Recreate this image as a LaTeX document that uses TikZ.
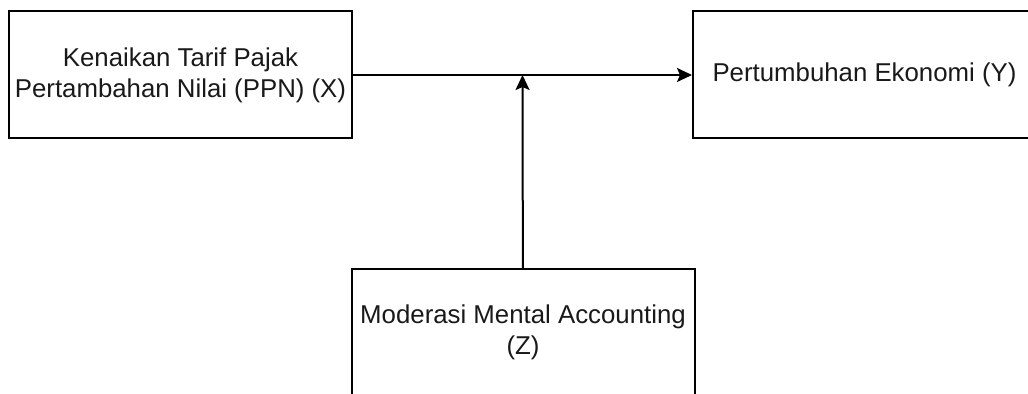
\documentclass[tikz,border=0pt]{standalone}
\usepackage{fontspec}
\setmainfont{Liberation Sans}
\usetikzlibrary{arrows.meta}
\begin{document}
\begin{tikzpicture}[x=0.5pt,y=-0.5pt,
var/.style={draw, line width=1pt, rectangle, minimum width=171.5pt, minimum height=63.5pt,
  inner sep=1pt, align=center, text=black!90, font=\fontsize{12.9}{15.5}\selectfont},
link/.style={line width=1pt, -{Stealth[length=7.5pt,width=7pt,inset=1.5pt]}}
]
\clip (0,0) rectangle (1028,394);
\node[var] (x) at (180.5,75) {Kenaikan Tarif Pajak\\Pertambahan Nilai (PPN) (X)};
\node[var] (y) at (864.5,75) {Pertumbuhan Ekonomi (Y)};
\node[var] (z) at (523,332.5) {Moderasi Mental Accounting\\(Z)};
\draw[link] (x) -- coordinate (m) (y);
\draw[link] (z) -- (m);
\end{tikzpicture}
\end{document}
